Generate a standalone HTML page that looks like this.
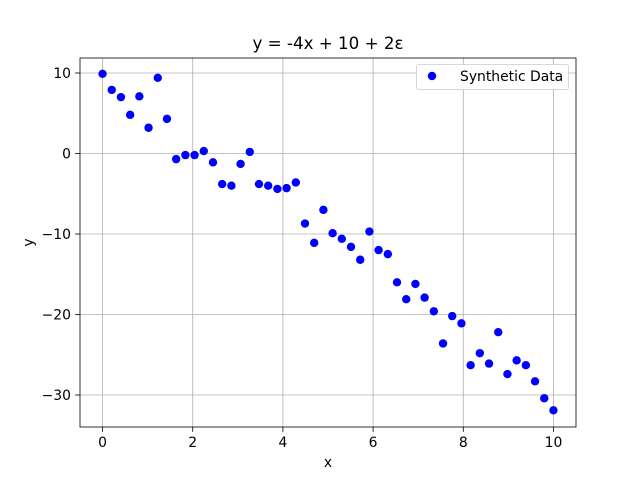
<!DOCTYPE html>
<html><head><meta charset="utf-8"><style>
body{margin:0;background:#fff;}
svg{display:block;font-family:"DejaVu Sans","Liberation Sans",sans-serif;}
</style></head><body>
<svg id="c" width="640" height="480"></svg>
<script>
const xTicks=[0,2,4,6,8,10];
const yTicks=[10,0,-10,-20,-30];
const yTickLabels=["10","0","\u221210","\u221220","\u221230"];
const yValues=[9.9,7.9,7.0,4.8,7.1,3.2,9.4,4.3,-0.7,-0.2,-0.2,0.3,-1.1,-3.8,-4.0,-1.3,0.2,-3.8,-4.0,-4.4,-4.3,-3.6,-8.7,-11.1,-7.0,-9.9,-10.6,-11.6,-13.2,-9.7,-12.0,-12.5,-16.0,-18.1,-16.2,-17.9,-19.6,-23.6,-20.2,-21.1,-26.3,-24.8,-26.1,-22.2,-27.4,-25.7,-26.3,-28.3,-30.4,-31.9];
const xValues=yValues.map((_,i)=>i*10/49);

const L=80,R=576,T=58,B=427;
const xs=v=>L+(v+0.5)/11*(R-L);
const ys=v=>153.5-v*8.05;
const svg=document.getElementById('c');
const NS='http://www.w3.org/2000/svg';
function mk(tag,attrs,parent){const e=document.createElementNS(NS,tag);for(const k in attrs)e.setAttribute(k,attrs[k]);(parent||svg).appendChild(e);return e;}

const grid=mk('g',{});


xTicks.forEach(t=>{const x=xs(t);
 const g=mk('line',{x1:x,x2:x,y1:T,y2:B,stroke:'#b0b0b0','stroke-width':0.8},grid);
 
 
 mk('line',{x1:x,x2:x,y1:B,y2:B+4.9,stroke:'#000','stroke-width':0.8});
 const tx=mk('text',{x:x,y:B+20,'font-size':13.9,'text-anchor':'middle'});tx.textContent=t;
 
 
});
yTicks.forEach((t,i)=>{const y=ys(t);
 const g=mk('line',{x1:L,x2:R,y1:y,y2:y,stroke:'#b0b0b0','stroke-width':0.8},grid);
 
 
 mk('line',{x1:L-4.9,x2:L,y1:y,y2:y,stroke:'#000','stroke-width':0.8});
 const tx=mk('text',{x:L-9,y:y+5,'font-size':13.9,'text-anchor':'end'});tx.textContent=yTickLabels[i];
 
 
});
const pts=mk('g',{});


yValues.forEach((v,i)=>{const c=mk('circle',{cx:xs(xValues[i]),cy:ys(v),r:4.2,fill:'#0000ff'},pts);
 
 
});
const fr=mk('rect',{x:L,y:T,width:R-L,height:B-T,fill:'none',stroke:'#000','stroke-width':0.8});


const ti=mk('text',{x:(L+R)/2,y:T-9,'font-size':16.7,'text-anchor':'middle'});ti.textContent='y = -4x + 10 + 2\u03b5';


const xl=mk('text',{x:(L+R)/2,y:467,'font-size':13.9,'text-anchor':'middle'});xl.textContent='x';


const yl=mk('text',{x:0,y:0,'font-size':13.9,'text-anchor':'middle',transform:`translate(33,${(T+B)/2}) rotate(-90)`});yl.textContent='y';


const lg=mk('g',{});


mk('rect',{x:416.5,y:64.5,width:152,height:25,rx:2,fill:'#fff',stroke:'#ccc','stroke-width':0.8},lg);
mk('circle',{cx:432,cy:76,r:4.2,fill:'#0000ff'},lg);
const lt=mk('text',{x:460,y:81,'font-size':13.9},lg);lt.textContent='Synthetic Data';


</script>
</body></html>
